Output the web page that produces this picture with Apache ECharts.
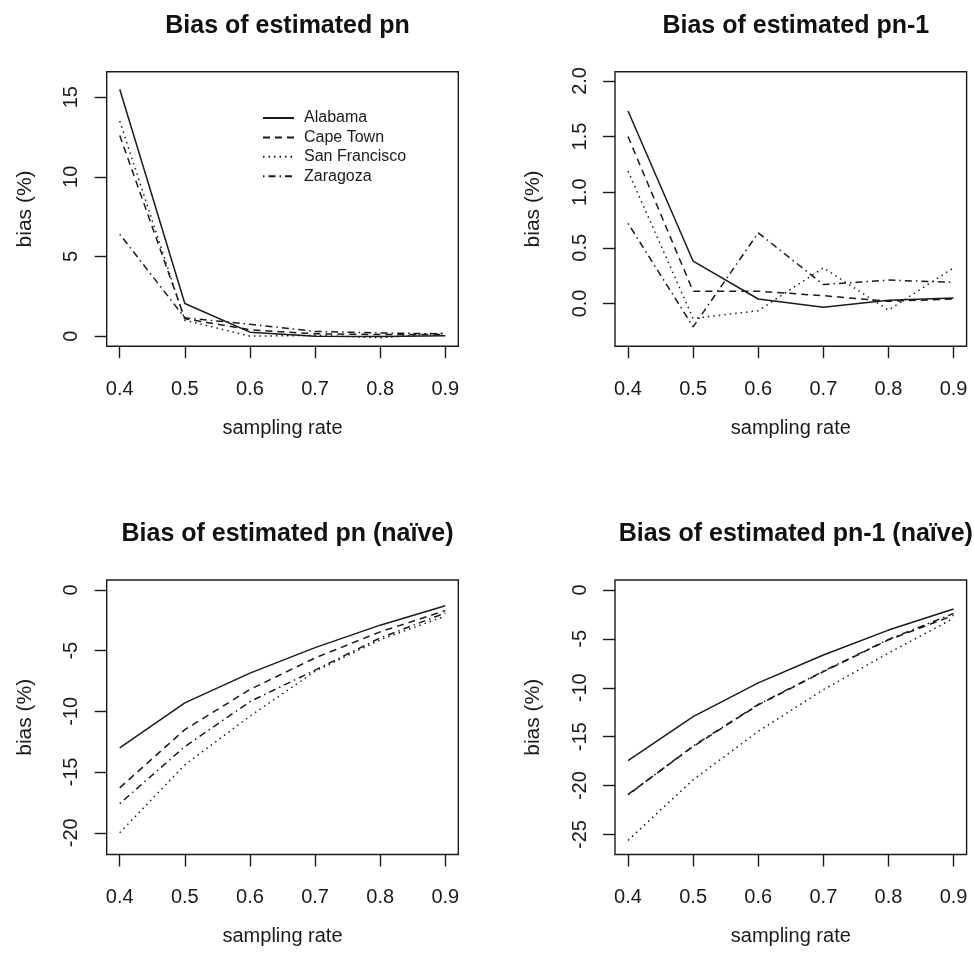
<!DOCTYPE html>
<html lang="en">
<head>
    <meta charset="UTF-8" />
    <title>Bias of estimated pn</title>
    <script src="https://cdn.jsdelivr.net/npm/echarts@6/dist/echarts.min.js"></script>
    <style>
        html, body { margin: 0; padding: 0; background: #fff; }
    </style>
</head>
<body>
    <div id="chart" style="width:974px;height:961px;"></div>
    <script type="text/javascript">
        // sampling rates on the x axis
        var rates = [0.4, 0.5, 0.6, 0.7, 0.8, 0.9];
        var cities = ['Alabama', 'Cape Town', 'San Francisco', 'Zaragoza'];

        // bias (%) per city, in the order of cities
        var pnBias = [
            [15.5, 2.05, 0.25, 0.0, -0.02, 0.02],
            [12.6, 1.1, 0.4, 0.15, 0.1, 0.1],
            [13.5, 1.0, 0.0, 0.05, -0.1, 0.2],
            [6.4, 1.15, 0.75, 0.3, 0.2, 0.15]
        ];
        var pn1Bias = [
            [1.73, 0.38, 0.04, -0.035, 0.03, 0.05],
            [1.50, 0.11, 0.11, 0.07, 0.02, 0.04],
            [1.19, -0.135, -0.065, 0.32, -0.06, 0.32],
            [0.72, -0.21, 0.635, 0.17, 0.21, 0.19]
        ];
        var pnNaive = [
            [-13.0, -9.3, -6.85, -4.75, -2.9, -1.3],
            [-16.3, -11.5, -8.2, -5.6, -3.45, -1.7],
            [-20.0, -14.4, -10.4, -6.7, -4.1, -2.15],
            [-17.6, -12.9, -9.2, -6.6, -3.95, -1.9]
        ];
        var pn1Naive = [
            [-17.45, -12.95, -9.5, -6.65, -4.1, -1.95],
            [-20.9, -16.0, -11.75, -8.35, -5.1, -2.6],
            [-25.6, -19.4, -14.45, -10.2, -6.45, -2.9],
            [-20.95, -15.95, -11.7, -8.3, -5.05, -2.4]
        ];

        // tick labels
        var xTicks = [0.4, 0.5, 0.6, 0.7, 0.8, 0.9];
        var pnTicks = [0, 5, 10, 15];
        var pn1Ticks = [0, 0.5, 1, 1.5, 2];
        var pnNaiveTicks = [-20, -15, -10, -5, 0];
        var pn1NaiveTicks = [-25, -20, -15, -10, -5, 0];

        var titles = ['Bias of estimated pn', 'Bias of estimated pn-1',
            'Bias of estimated pn (na\u00efve)', 'Bias of estimated pn-1 (na\u00efve)'];

        var ink = '#1a1a1a';
        var font = '"Liberation Sans", Arial, sans-serif';
        var dashes = ['solid', [7, 5], [1.5, 4], [1.5, 4, 7, 4]];

        var panels = [
            { data: pnBias, ticks: pnTicks, min: -0.63, max: 16.6, digits: 0, left: 106.7, top: 71.7 },
            { data: pn1Bias, ticks: pn1Ticks, min: -0.384, max: 2.083, digits: 1, left: 615, top: 71.7 },
            { data: pnNaive, ticks: pnNaiveTicks, min: -21.79, max: 0.82, digits: 0, left: 106.7, top: 580 },
            { data: pn1Naive, ticks: pn1NaiveTicks, min: -27.04, max: 1.02, digits: 0, left: 615, top: 580 }
        ];
        var boxW = 351.6, boxH = 274.5;

        var chart = echarts.init(document.getElementById('chart'), null, { renderer: 'canvas' });
        var option = {
            animation: false,
            backgroundColor: '#fff',
            textStyle: { fontFamily: font, color: ink },
            title: [],
            grid: [],
            xAxis: [],
            yAxis: [],
            legend: {
                data: cities,
                orient: 'vertical',
                left: 262,
                top: 110,
                padding: 0,
                itemWidth: 31,
                itemHeight: 14,
                itemGap: 3.4,
                itemStyle: { opacity: 0, borderWidth: 0 },
                textStyle: { fontSize: 16, color: ink, fontFamily: font, padding: [0, 0, 0, 5] },
                selectedMode: false
            },
            series: []
        };

        for (var p = 0; p < panels.length; p++) {
            var pn = panels[p];
            option.title.push({
                text: titles[p],
                left: pn.left + boxW / 2,
                top: pn.top - 63,
                textAlign: 'center',
                textStyle: { fontSize: 25, fontWeight: 'bold', color: '#111', fontFamily: font }
            });
            option.grid.push({
                left: pn.left, top: pn.top, width: boxW, height: boxH,
                show: true, borderColor: ink, borderWidth: 1.4, backgroundColor: 'transparent'
            });
            option.xAxis.push({
                type: 'value', gridIndex: p, min: 0.38, max: 0.92,
                name: 'sampling rate', nameLocation: 'middle', nameGap: 72,
                nameTextStyle: { fontSize: 20, color: ink, fontFamily: font },
                axisLine: { show: false, onZero: false },
                axisTick: { show: true, customValues: xTicks, length: 12, lineStyle: { color: ink, width: 1.4 } },
                axisLabel: {
                    customValues: xTicks, margin: 33, fontSize: 20, color: ink, fontFamily: font,
                    formatter: function (v) { return v.toFixed(1); }
                },
                splitLine: { show: false }
            });
            (function (digits) {
                option.yAxis.push({
                    type: 'value', gridIndex: p, min: pn.min, max: pn.max,
                    name: 'bias (%)', nameLocation: 'middle', nameGap: 71,
                    nameTextStyle: { fontSize: 21, color: ink, fontFamily: font },
                    axisLine: { show: false, onZero: false },
                    axisTick: { show: true, customValues: pn.ticks, length: 12, lineStyle: { color: ink, width: 1.4 } },
                    axisLabel: {
                        customValues: pn.ticks, rotate: 90, margin: 25, fontSize: 20, color: ink, fontFamily: font,
                        formatter: function (v) { return v.toFixed(digits); }
                    },
                    splitLine: { show: false }
                });
            })(pn.digits);
            for (var c = 0; c < cities.length; c++) {
                option.series.push({
                    name: cities[c],
                    type: 'line',
                    xAxisIndex: p,
                    yAxisIndex: p,
                    symbol: 'none',
                    silent: true,
                    lineStyle: { color: ink, width: 1.5, type: dashes[c] },
                    itemStyle: { color: ink },
                    data: rates.map(function (r, i) { return [r, pn.data[c][i]]; })
                });
            }
        }

        chart.setOption(option, true);
    </script>
</body>
</html>
